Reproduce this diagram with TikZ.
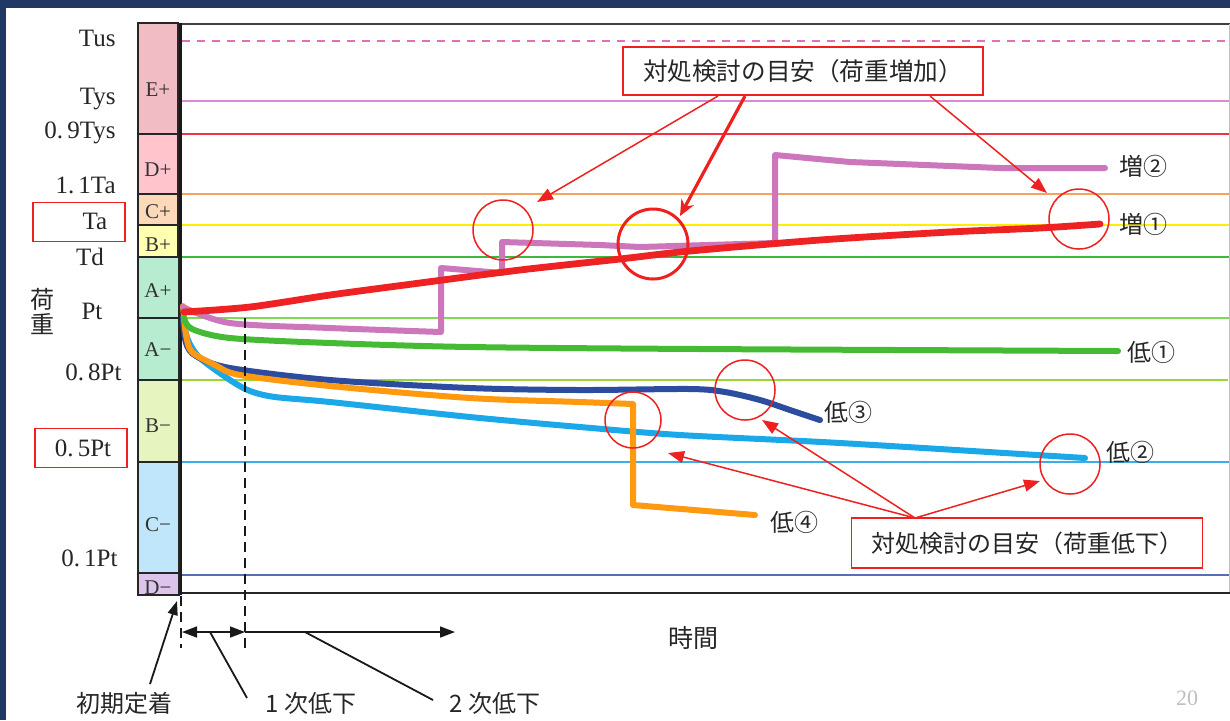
\documentclass[tikz,border=0pt]{standalone}
\usepackage{fontspec}
\setmainfont{Liberation Serif}
\newfontfamily\jp{Noto Sans CJK JP}
\usetikzlibrary{arrows.meta}
\definecolor{navy}{HTML}{1F3864}
\definecolor{annred}{HTML}{EE2020}
\definecolor{cTus}{HTML}{E070B8}
\definecolor{cTys}{HTML}{D98AD6}
\definecolor{cNTys}{HTML}{EE3344}
\definecolor{cTaa}{HTML}{F7A35C}
\definecolor{cTa}{HTML}{FFEE00}
\definecolor{cTd}{HTML}{3CB83C}
\definecolor{cPt}{HTML}{7ED957}
\definecolor{cEPt}{HTML}{99D633}
\definecolor{cFPt}{HTML}{3AAEE8}
\definecolor{cOPt}{HTML}{5A6CB8}
\definecolor{kRed}{HTML}{EE2222}
\definecolor{kPur}{HTML}{CC77BB}
\definecolor{kGrn}{HTML}{44BB33}
\definecolor{kDbl}{HTML}{2B4C9F}
\definecolor{kOra}{HTML}{FF9A10}
\definecolor{kLbl}{HTML}{1AA8E8}
\definecolor{bE}{HTML}{F2BCC4}
\definecolor{bD}{HTML}{FFC4CC}
\definecolor{bC}{HTML}{FCD9B8}
\definecolor{bB}{HTML}{FFFFB0}
\definecolor{bA}{HTML}{B8ECD0}
\definecolor{bBm}{HTML}{E6F5C0}
\definecolor{bCm}{HTML}{BFE6FA}
\definecolor{bDm}{HTML}{DCC4EC}
\begin{document}
\begin{tikzpicture}[x=0.5pt,y=-0.5pt,
  lbl/.style={font=\fontsize{12.5}{14}\selectfont, inner sep=0, text=black!85},
  band/.style={draw=black!85, line width=1.2pt},
  bandlbl/.style={font=\fontsize{10.5}{12}\selectfont, text=black!80, inner sep=0},
  level/.style={line width=1pt},
  curve/.style={line width=3pt, line join=round, line cap=round},
  ring/.style={circle, draw=annred, line width=0.75pt, inner sep=0, minimum size=30pt},
  callout/.style={draw=annred, line width=0.9pt, fill=white, inner sep=0, text=black!85},
  redbox/.style={draw=annred, line width=0.9pt, inner sep=0, minimum width=46pt, minimum height=19.5pt},
  ann/.style={draw=annred, line width=0.75pt, -{Triangle[length=8pt,width=6pt]}},
  jtxt/.style={font=\jp\fontsize{12}{14}\selectfont, inner sep=0, text=black!85},
  dashline/.style={black!90, line width=1pt, dash pattern=on 5pt off 3pt},
  blk/.style={black!90, line width=0.6pt},
  bigarrow/.style={-{Triangle[length=7.5pt,width=5.5pt]}}
]
\useasboundingbox (0,0) rectangle (1230,720);
\fill[white] (0,0) rectangle (1230,720);
\fill[navy] (0,0) rectangle (1230,8);
\fill[navy] (0,0) rectangle (6,720);

% level lines
\draw[level, cTus, dash pattern=on 4pt off 3.5pt] (182,41) -- (1230,41);
\draw[level, cTys] (182,101) -- (1230,101);
\draw[level, cNTys] (182,134) -- (1230,134);
\draw[level, cTaa] (182,194) -- (1230,194);
\draw[level, cTa] (182,225) -- (1230,225);
\draw[level, cTd] (182,257) -- (1230,257);
\draw[level, cPt] (182,318) -- (1230,318);
\draw[level, cEPt] (182,380) -- (1228,380);
\draw[level, cFPt] (182,462) -- (1230,462);
\draw[level, cOPt] (182,575) -- (1230,575);

% frame
\draw[black!75, line width=0.8pt] (180,24) -- (1230,24);
\draw[black!25, line width=0.4pt] (1229,24) -- (1229,593);
\draw[black!85, line width=0.9pt] (180,593) -- (1230,593);
\draw[black!90, line width=1.6pt] (180,23) -- (180,595);

% bands
\filldraw[band, fill=bE] (138,23) rectangle (178,134);
\filldraw[band, fill=bD] (138,134) rectangle (178,194);
\filldraw[band, fill=bC] (138,194) rectangle (178,225);
\filldraw[band, fill=bB] (138,225) rectangle (178,257);
\filldraw[band, fill=bA] (138,257) rectangle (179,318);
\filldraw[band, fill=bA] (138,318) rectangle (179,380);
\filldraw[band, fill=bBm] (138,380) rectangle (179,462);
\filldraw[band, fill=bCm] (138,462) rectangle (179,573);
\filldraw[band, fill=bDm] (138,573) rectangle (179,595);
\node[bandlbl] (bEp) at (158,90) {E+};
\node[bandlbl] (bDp) at (158,170) {D+};
\node[bandlbl] (bCp) at (158,212) {C+};
\node[bandlbl] (bBp) at (158,245) {B+};
\node[bandlbl] (bAp) at (158,291) {A+};
\node[bandlbl] (bAm) at (158,350) {A−};
\node[bandlbl] (bBm) at (158,426) {B−};
\node[bandlbl] (bCm) at (158,525) {C−};
\begin{scope}
\clip (138,573) rectangle (179,594);
\node[bandlbl] (bDm) at (158,588) {D−};
\end{scope}

% left labels
\node[lbl, anchor=east] (lTus) at (116,38) {Tus};
\node[lbl, anchor=east] (lTys) at (116,99) {Tys};
\node[lbl, anchor=east] (lNTys) at (116,133) {0.\,9Tys};
\node[lbl, anchor=east] (lTaa) at (116,185) {1.\,1Ta};
\node[redbox] (bxTa) at (79,222) {};
\node[lbl] (lTa) at (95,221) {Ta};
\node[lbl] (lTd) at (90,257) {Td};
\node[lbl] (lPt) at (92,311) {Pt};
\node[jtxt] (ka) at (43,299) {荷};
\node[jtxt] (ju) at (43,324) {重};
\node[lbl, anchor=east] (lEPt) at (122,372) {0.\,8Pt};
\node[redbox] (bxPt) at (81,448) {};
\node[lbl] (lFPt) at (83,448) {0.\,5Pt};
\node[lbl, anchor=east] (lOPt) at (118,558) {0.\,1Pt};

% curves
\draw[curve, kLbl] plot[smooth, tension=0.5] coordinates {(183,318) (188,340) (200,358) (230,380) (250,391) (275,397) (330,402) (470,417) (580,427) (680,435) (840,443) (1085,458)};
\draw[curve, kDbl] plot[smooth, tension=0.5] coordinates {(183,318) (186,343) (196,356) (230,368) (330,380) (470,388) (580,390) (690,389) (725,392) (760,400) (790,410) (820,420)};
\draw[curve, kOra] plot[smooth, tension=0.5] coordinates {(183,306) (186,335) (192,352) (215,365) (240,375) (330,386) (470,398) (580,402) (633,404)} -- (633,505) -- (755,515);
\draw[curve, kGrn] plot[smooth, tension=0.5] coordinates {(184,318) (192,329) (230,338) (330,343) (470,347) (700,349) (1118,351)};
\draw[curve, kPur] plot[smooth, tension=0.5] coordinates {(183,307) (230,323) (330,328) (441,332)} -- (441,268) -- (502,273) -- (502,242) -- (600,245) -- (640,247) -- (775,243) -- (775,155) -- (850,162) -- (1000,168) -- (1105,168);
\draw[curve, kRed, line width=3.4pt] plot[smooth, tension=0.5] coordinates {(184,312) (250,307) (330,295) (420,283) (520,270) (620,259) (690,251) (820,240) (950,232) (1040,228) (1100,224)};

% rings
\node[ring] (r1) at (503,230) {};
\node[ring, line width=1.5pt, minimum size=35pt] (r2) at (653,244) {};
\node[ring] (r3) at (1079,219) {};
\node[ring, minimum size=28pt] (r4) at (633,420) {};
\node[ring] (r5) at (745,390) {};
\node[ring] (r6) at (1070,464) {};

% curve labels
\node[jtxt] (z2) at (1143,166) {増②};
\node[jtxt] (z1) at (1143,224) {増①};
\node[jtxt] (t1) at (1151,352) {低①};
\node[jtxt] (t2) at (1130,452) {低②};
\node[jtxt] (t3) at (848,412) {低③};
\node[jtxt] (t4) at (794,522) {低④};

% callouts
\node[callout, minimum width=180pt, minimum height=24pt, font=\jp\fontsize{12.3}{14}\selectfont] (up) at (803,71) {対処検討の目安（荷重増加）};
\node[callout, minimum width=175.5pt, minimum height=25pt, font=\jp\fontsize{12}{14}\selectfont] (dn) at (1027,543) {対処検討の目安（荷重低下）};

\coordinate (ua) at (718,96);
\coordinate (ub) at (745,96);
\coordinate (uc) at (930,96);
\coordinate (ta) at (537,202);
\coordinate (tb) at (680,216);
\coordinate (tc) at (1047,193);
\draw[ann] (ua) -- (ta);
\draw[annred, line width=1.6pt, -{Stealth[length=8pt,width=7pt]}] (ub) -- (tb);
\draw[ann] (uc) -- (tc);

\coordinate (da) at (915,518);
\coordinate (sa) at (762,420);
\coordinate (sb) at (668,453);
\coordinate (sc) at (1040,481);
\draw[ann] (da) -- (sa);
\draw[ann] (da) -- (sb);
\draw[ann] (da) -- (sc);

% time axis
\coordinate (x0) at (182,632);
\coordinate (x1) at (245,632);
\coordinate (x2) at (455,632);
\draw[dashline] (181,596) -- (181,648);
\draw[dashline] (245,318) -- (245,652);
\draw[blk, line width=0.8pt, {Triangle[length=7.5pt,width=5.5pt]}-{Triangle[length=7.5pt,width=5.5pt]}] (x0) -- (x1);
\draw[blk, line width=0.8pt, bigarrow] (x1) -- (x2);
\node[jtxt, font=\jp\fontsize{12.5}{14}\selectfont] (jikan) at (693,638) {時間};

\node[jtxt] (shoki) at (124,703) {初期定着};
\node[jtxt] (ichi) at (311,703) {1 次低下};
\node[jtxt] (ni) at (495,703) {2 次低下};
\coordinate (s0) at (150,684);
\coordinate (s1) at (177,601);
\draw[blk, line width=0.9pt, -{Triangle[length=7pt,width=5pt]}] (s0) -- (s1);
\coordinate (i0) at (210,632);
\coordinate (i1) at (247,698);
\draw[blk, line width=0.9pt] (i0) -- (i1);
\coordinate (n0) at (305,632);
\coordinate (n1) at (433,700);
\draw[blk, line width=0.9pt] (n0) -- (n1);

\node[font=\fontsize{11}{12}\selectfont, text=black!25, inner sep=0] (pg) at (1187,698) {20};
\end{tikzpicture}
\end{document}
